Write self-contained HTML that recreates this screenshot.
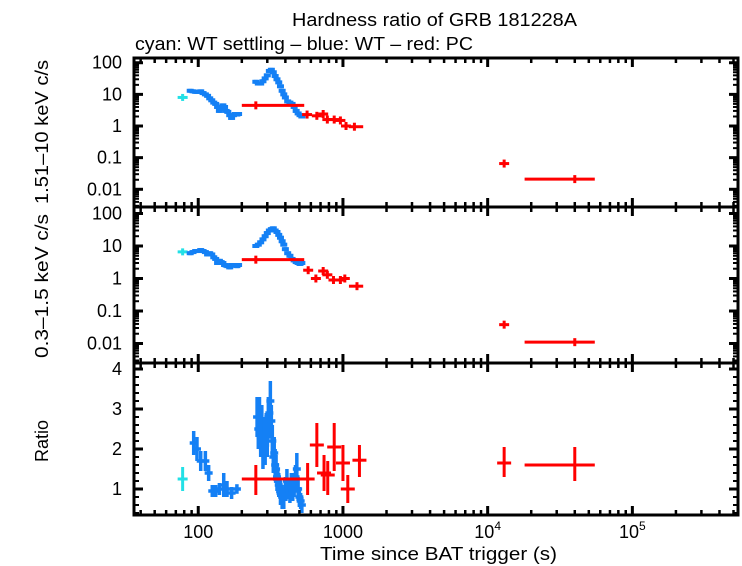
<!DOCTYPE html>
<html><head><meta charset="utf-8"><style>
body{margin:0;background:#fff;}
svg{display:block;font-family:"Liberation Sans",sans-serif;}
</style></head><body>
<svg id="chart" width="742" height="566" xmlns="http://www.w3.org/2000/svg">
<text x="292" y="26" font-size="18" textLength="285" lengthAdjust="spacingAndGlyphs">Hardness ratio of GRB 181228A</text>
<text x="135" y="50" font-size="18" textLength="338" lengthAdjust="spacingAndGlyphs">cyan: WT settling – blue: WT – red: PC</text>
<text transform="translate(48,132) rotate(-90)" font-size="18" text-anchor="middle" textLength="144" lengthAdjust="spacingAndGlyphs">1.51–10 keV c/s</text>
<text transform="translate(48,286) rotate(-90)" font-size="18" text-anchor="middle" textLength="144" lengthAdjust="spacingAndGlyphs">0.3–1.5 keV c/s</text>
<text transform="translate(48,441) rotate(-90)" font-size="18" text-anchor="middle">Ratio</text>
<text x="320" y="560" font-size="18" textLength="237" lengthAdjust="spacingAndGlyphs">Time since BAT trigger (s)</text>
<g id="plot"></g>
</svg>
<script>
// ---- data ----
const cyanT = [78];
const cyanHard = [8];
const cyanSoft = [6.6];
const cyanRatio = [1.25];
const blueT = [88,92,96,100,104,108,112,116,120,124,128,132,136,140,144,148,152,156,160,165,170,175,180,185,190,
 250,260,270,280,290,300,310,320,330,340,350,360,370,380,390,400,415,430,445,460,475,490,505,520];
const blueHard = [13,12.5,12,12,12.5,11,10,9,7.5,6.5,5.5,5,4,3,3.5,4.5,4,3,2.8,2.2,1.8,2.2,2.4,2.3,2.4,
 25,22,22,26,32,40,55,60,50,38,30,24,18,13,10,8,6,5.5,5,4,3,2.5,2.2,2];
const blueSoft = [6,6.5,7,7,7.5,7,6.5,5.5,6,5.5,4.5,4,3,3.5,3.2,3,2.6,2.5,2.4,2.2,2.6,2.5,2.6,2.4,2.6,
 10,11,13,16,20,25,30,33,35,30,27,22,18,14,11,8,6,5,4,3.6,3.2,3,2.8,3];
const blueRT = [93,98,104,112,118,125,132,140,150,158,170,185,
 255,260,265,270,275,280,285,290,295,300,305,310,315,320,325,330,335,340,345,350,355,360,370,380,390,400,410,420,430,440,450,460,470,480,490,500,510,520];
const blueRatio = [2.15,2.0,1.7,1.7,1.4,0.95,0.95,1.0,1.1,1.0,0.9,1.0,
 2.8,2.5,2.9,2.3,2.6,2.0,2.4,2.1,2.5,2.3,2.8,2.9,3.2,2.7,2.2,1.8,1.9,1.6,1.5,1.3,1.2,1.1,0.9,0.8,0.75,1.0,1.2,1.0,0.9,1.1,0.95,1.1,1.3,1.5,1.0,0.8,0.7,0.6];
const blueRatioErr = [0.3,0.3,0.25,0.25,0.2,0.15,0.15,0.15,0.3,0.2,0.15,0.12,
 0.5,0.5,0.4,0.5,0.5,0.5,0.4,0.5,0.4,0.5,0.5,0.4,0.5,0.4,0.4,0.4,0.4,0.4,0.35,0.35,0.3,0.3,0.3,0.3,0.25,0.3,0.3,0.25,0.25,0.3,0.25,0.3,0.3,0.4,0.3,0.25,0.2,0.2];
const redHT = [250,565,660,730,780,870,960,1050,1200,13000,40000];
const redHLo = [200,540,610,700,760,830,920,1020,1100,12500,18000];
const redHHi = [540,600,700,760,830,920,1020,1100,1380,13500,55000];
const redHard = [4.5,2.3,2.1,2.4,1.6,1.6,1.5,1.0,0.95,0.065,0.021];
const redST = [250,575,650,730,780,860,960,1030,1250,13000,40000];
const redSLo = [200,550,610,700,760,820,920,1000,1100,12500,18000];
const redSHi = [540,600,700,760,820,920,1000,1080,1380,13500,55000];
const redSoft = [3.8,1.8,1.0,1.7,1.3,0.9,0.9,1.0,0.58,0.038,0.011];
const redRT = [250,570,660,740,785,870,1000,1080,1300,13000,40000];
const redRLo = [200,540,620,710,760,830,960,1040,1200,12800,18000];
const redRHi = [540,600,700,770,820,920,1040,1120,1400,13300,55000];
const redRatio = [1.25,1.25,2.1,1.4,1.35,2.05,1.65,1.0,1.72,1.65,1.6];
const redRatioLo = [0.85,0.85,1.55,0.95,0.85,1.45,1.2,0.65,1.3,1.3,1.2];
const redRatioHi = [1.6,1.65,2.65,1.85,1.7,2.65,2.1,1.35,2.1,2.05,2.05];
const xTickLabels = ["100","1000","10^4","10^5"];
const logTickLabels = ["100","10","1","0.1","0.01"];
const ratioTickLabels = ["1","2","3","4"];

// ---- axes ----
const L=134, R=738;
const xLogMin=1.556, xLogMax=5.73;
const X = t => L + (Math.log10(t)-xLogMin)/(xLogMax-xLogMin)*(R-L);
const P1={top:58,bot:207,lo:-2.56,hi:2.15};
const P2={top:207,bot:363,lo:-2.6,hi:2.2};
const P3={top:363,bot:515,lo:0.35,hi:4.15};
const YL=(p,v)=>p.bot-(Math.log10(v)-p.lo)/(p.hi-p.lo)*(p.bot-p.top);
const YR=(p,v)=>p.bot-(v-p.lo)/(p.hi-p.lo)*(p.bot-p.top);
const NS="http://www.w3.org/2000/svg";
const g=document.getElementById('plot');
function mk(tag,attrs,parent){const e=document.createElementNS(NS,tag);for(const k in attrs)e.setAttribute(k,attrs[k]);(parent||g).appendChild(e);return e;}
function line(x1,y1,x2,y2,c,w,parent){return mk('line',{x1,y1,x2,y2,stroke:c,'stroke-width':w},parent);}

function drawSeries(name,p,ts,vals,opts){
  const grp=mk('g',{});
  
  
  const hw=opts.hw||4;
  for(let i=0;i<ts.length;i++){
    const t=ts[i],v=vals[i];
    let xl,xr;
    if(opts.tlo){xl=X(opts.tlo[i]);xr=X(opts.thi[i]);if(xr-xl<2*hw){const c=X(t);xl=c-hw;xr=c+hw;}}
    else {const c=X(t);xl=c-hw;xr=c+hw;}
    let y,y1,y2;
    if(opts.log){y=YL(p,v);
      const f=opts.ferr||1.18; y1=YL(p,v*f); y2=YL(p,v/f);
      if(opts.minpx){if(y2-y1<opts.minpx){y1=y-opts.minpx/2;y2=y+opts.minpx/2;}}
    } else {y=YR(p,v);
      if(opts.vlo){y1=YR(p,opts.vhi[i]);y2=YR(p,opts.vlo[i]);}
      else {const e=opts.err?opts.err[i]:0.25;y1=YR(p,v+e);y2=YR(p,v-e);}
    }
    const pt=mk('g',{},grp);
    
    
    line(xl,y,xr,y,opts.color,opts.w||3,pt);
    line(X(t),y1,X(t),y2,opts.color,opts.w||3,pt);
  }
}
const BLUE="#1480f5", CYAN="#22e0e6", RED="#ff0000";
drawSeries('cyan-hard',P1,cyanT,cyanHard,{log:true,color:CYAN,minpx:7,ferr:1.1,hw:5});
drawSeries('blue-hard',P1,blueT,blueHard,{log:true,color:BLUE,ferr:1.15,w:4,hw:3.5});
drawSeries('red-hard',P1,redHT,redHard,{log:true,color:RED,tlo:redHLo,thi:redHHi,ferr:1.2,minpx:8,hw:5});
drawSeries('cyan-soft',P2,cyanT,cyanSoft,{log:true,color:CYAN,minpx:7,ferr:1.1,hw:5});
drawSeries('blue-soft',P2,blueT,blueSoft,{log:true,color:BLUE,ferr:1.15,w:4,hw:3.5});
drawSeries('red-soft',P2,redST,redSoft,{log:true,color:RED,tlo:redSLo,thi:redSHi,ferr:1.2,minpx:8,hw:5});
drawSeries('cyan-ratio',P3,cyanT,cyanRatio,{log:false,color:CYAN,err:[0.3],hw:5});
drawSeries('blue-ratio',P3,blueRT,blueRatio,{log:false,color:BLUE,err:blueRatioErr,hw:4,w:3.5});
drawSeries('red-ratio',P3,redRT,redRatio,{log:false,color:RED,tlo:redRLo,thi:redRHi,vlo:redRatioLo,vhi:redRatioHi,hw:7});

const ax=mk('g',{});


function xticks(p){
  for(let d=1;d<=6;d++){for(let m=1;m<10;m++){const t=m*Math.pow(10,d);const x=X(t);if(x<L+1||x>R-1)continue;
    const len=m===1?9:5;
    line(x,p.bot,x,p.bot-len,'#000',m===1?3:2.5,ax);line(x,p.top,x,p.top+len,'#000',m===1?3:2.5,ax);}}
}
function ylogticks(p){
  for(let d=-3;d<=2;d++){for(let m=1;m<10;m++){const v=m*Math.pow(10,d);const y=YL(p,v);if(y<p.top+1||y>p.bot-1)continue;
    const len=m===1?9:5;line(L,y,L+len,y,'#000',m===1?3:2,ax);line(R,y,R-len,y,'#000',m===1?3:2,ax);}}
  logTickLabels.forEach(s=>{const y=YL(p,parseFloat(s));const t=mk('text',{x:122,y:y+6,'font-size':18,'text-anchor':'end'},ax);t.textContent=s;
    
    });
}
function yratioticks(p){
  for(let v=0.4;v<4.15;v+=0.2){const y=YR(p,v);const maj=Math.abs(v-Math.round(v))<0.01;const len=maj?9:5;
    line(L,y,L+len,y,'#000',maj?3:2,ax);line(R,y,R-len,y,'#000',maj?3:2,ax);}
  ratioTickLabels.forEach(s=>{const y=YR(p,parseFloat(s));const t=mk('text',{x:122,y:y+6,'font-size':18,'text-anchor':'end'},ax);t.textContent=s;
    
    });
}
[P1,P2,P3].forEach(p=>{xticks(p);mk('rect',{x:L,y:p.top,width:R-L,height:p.bot-p.top,fill:'none',stroke:'#000','stroke-width':3},ax);});
ylogticks(P1);ylogticks(P2);yratioticks(P3);
xTickLabels.forEach((s,i)=>{const x=X(Math.pow(10,i+2));const t=mk('text',{x:x,y:538,'font-size':18,'text-anchor':'middle'},ax);
  
  
  if(s.indexOf('^')>0){const [b,e]=s.split('^');t.textContent=b;const ts=mk('tspan',{dy:-8,'font-size':12},t);ts.textContent=e;}
  else t.textContent=s;});
</script>
</body></html>
